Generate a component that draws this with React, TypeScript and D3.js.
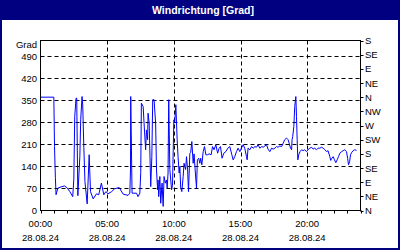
import React from "react";
import * as d3 from "d3";

const title = "Windrichtung [Grad]";
const dateLabel = "28.08.24";
const minutes = [0,60,63,67,70,78,93,108,120,132,145,150,154,160,163,168,177,181,187,190,195,200,210,219,225,237,252,262,274,285,294,304,320,334,354,372,394,402,405,406,412,432,439,447,451,454,462,466,473,477,482,484,489,496,501,505,511,518,522,527,529,532,537,541,547,552,556,562,567,570,574,577,582,590,594,600,604,609,615,619,624,627,631,636,642,646,653,657,662,666,672,676,681,687,691,696,702,706,712,717,721,726,732,738,744,752,759,768,774,781,789,797,804,810,817,825,834,843,852,861,867,874,882,889,897,904,912,919,927,930,934,942,950,957,965,972,979,987,995,1002,1017,1024,1032,1040,1047,1055,1062,1069,1077,1085,1092,1099,1107,1114,1119,1125,1130,1132,1135,1140,1144,1149,1152,1155,1158,1162,1168,1175,1182,1189,1197,1204,1212,1220,1227,1234,1242,1249,1257,1265,1272,1280,1287,1294,1302,1306,1311,1317,1323,1329,1335,1341,1347,1355,1362,1369,1377,1382,1386,1391,1395,1401,1407,1414,1422];
const degrees = [360,360,203,104,50,71,75,78,72,60,44,100,298,357,357,47,171,290,362,335,200,92,21,177,60,37,53,50,87,50,60,53,60,69,73,52,48,55,129,362,55,55,44,55,120,341,330,278,193,256,225,309,278,76,171,352,352,278,129,66,97,44,108,23,87,13,108,87,97,71,119,352,130,66,80,288,280,336,225,171,119,140,71,60,108,150,130,171,129,60,182,185,219,150,180,129,71,161,166,150,166,145,187,203,177,177,180,177,203,193,209,182,198,203,166,182,187,198,203,177,161,171,187,198,187,198,209,198,171,161,198,193,203,198,203,201,209,198,203,201,209,195,187,198,195,198,203,201,205,203,214,225,230,225,214,198,193,225,235,267,330,362,298,225,161,177,187,193,190,193,187,193,198,201,195,198,193,198,198,201,198,193,187,190,171,159,166,171,161,152,161,171,182,187,190,193,187,166,145,155,177,185,190,193,191];
const leftTicks = [0,70,140,210,280,350,420,490];
const compassLabels = ["N","NE","E","SE","S","SW","W","NW","N","NE","E","SE","S"];
const timeLabels = ["00:00","05:00","10:00","15:00","20:00"];

export default function App() {
  const W = 400, H = 250;
  const x = d3.scaleLinear().domain([0, 1440]).range([40.5, 360.5]);
  const y = d3.scaleLinear().domain([0, 540]).range([210.5, 40.5]);
  const line = d3.line<number>().x((_, i) => x(minutes[i])).y((d) => y(d));
  const font = "'Liberation Sans', Arial, sans-serif";
  const hours = d3.range(0, 25);
  return (
    <svg width={W} height={H} style={{ position: "absolute", left: 0, top: 0, display: "block" }}>
      <rect x={0} y={0} width={W} height={H} fill="#fff" />
      <rect x={0} y={0} width={W} height={20} fill="#000080" />
      <rect x={1} y={1} width={W - 2} height={H - 2} fill="none" stroke="#000080" strokeWidth={2} />
      <text x={203} y={14} textAnchor="middle" fill="#fff" fontFamily={font} fontWeight="bold" fontSize={10.5}>{title}</text>
      {leftTicks.slice(1).map((v) => (
        <line key={"h" + v} x1={x(0)} x2={x(1440)} y1={Math.round(y(v)) + 0.5} y2={Math.round(y(v)) + 0.5} stroke="#000" strokeDasharray="4,3" />
      ))}
      {[300, 600, 900, 1200].map((m) => (
        <line key={"v" + m} x1={Math.round(x(m)) + 0.5} x2={Math.round(x(m)) + 0.5} y1={y(540)} y2={y(0)} stroke="#000" strokeDasharray="4,3" />
      ))}
      <path d={line(degrees) || ""} fill="none" stroke="#0000ff" strokeWidth={1} />
      <rect x={x(0)} y={y(540)} width={x(1440) - x(0)} height={y(0) - y(540)} fill="none" stroke="#000" />
      {hours.map((h) => (
        <line key={"t" + h} x1={Math.round(x(h * 60)) + 0.5} x2={Math.round(x(h * 60)) + 0.5} y1={y(0)} y2={y(0) + 3} stroke="#000" />
      ))}
      {compassLabels.map((c, i) => (
        <g key={"c" + i}>
          <line x1={x(1440)} x2={x(1440) + 3} y1={Math.round(y(i * 45)) + 0.5} y2={Math.round(y(i * 45)) + 0.5} stroke="#000" />
          <text x={365} y={y(i * 45) + 3.5} fontFamily={font} fontSize={9.5} fill="#000">{c}</text>
        </g>
      ))}
      {leftTicks.map((v) => (
        <text key={"l" + v} x={37} y={y(v) + 3.5} textAnchor="end" fontFamily={font} fontSize={9.5} fill="#000">{v}</text>
      ))}
      <text x={37} y={48} textAnchor="end" fontFamily={font} fontSize={9.5} fill="#000">Grad</text>
      {timeLabels.map((t, i) => (
        <g key={"x" + i}>
          <text x={x(i * 300)} y={227} textAnchor="middle" fontFamily={font} fontSize={9.5} fill="#000">{t}</text>
          <text x={x(i * 300)} y={241} textAnchor="middle" fontFamily={font} fontSize={9.5} fill="#000">{dateLabel}</text>
        </g>
      ))}
    </svg>
  );
}
